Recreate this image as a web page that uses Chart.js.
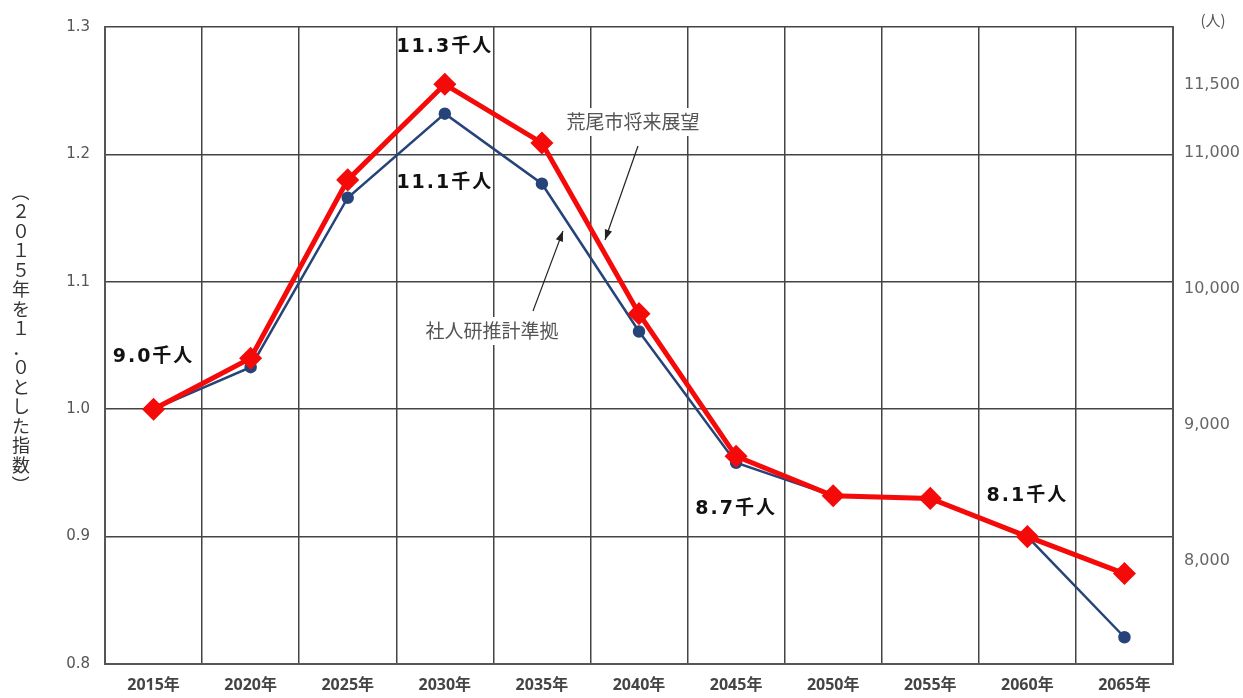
<!DOCTYPE html>
<html>
<head>
<meta charset="utf-8">
<script src="https://cdn.jsdelivr.net/npm/chart.js@4.4.1/dist/chart.umd.min.js"></script>
<style>
  html, body { margin: 0; padding: 0; background: #fff; }
  #wrap { width: 1243px; height: 698px; position: relative; }
</style>
</head>
<body>
<div id="wrap"><canvas id="popChart"></canvas></div>
<script>
// ===== 荒尾市 人口推計（2015年=1.0 指数） =====

const years = ["2015年", "2020年", "2025年", "2030年", "2035年", "2040年",
               "2045年", "2050年", "2055年", "2060年", "2065年"];

// 社人研推計準拠 (blue)
const ipssIndex = [1.000, 1.033, 1.166, 1.232, 1.177, 1.061, 0.958, 0.932, 0.930, 0.900, 0.821];
// 荒尾市将来展望 (red)
const visionIndex = [1.000, 1.040, 1.180, 1.255, 1.209, 1.075, 0.963, 0.932, 0.930, 0.900, 0.871];

const leftTicks = [0.8, 0.9, 1.0, 1.1, 1.2, 1.3];
const rightTicks = [8000, 9000, 10000, 11000, 11500];

// labels in thousands of people: [text, series, index]
const valueLabels = [
  ["9.0千人", "vision", 0],
  ["11.3千人", "vision", 3],
  ["11.1千人", "ipss", 3],
  ["8.7千人", "ipss", 6],
  ["8.1千人", "vision", 9]
];

const axisTitleChars = ["（", "２", "０", "１", "５", "年", "を", "１", "．", "０", "と", "し", "た", "指", "数", "）"];

const JP = "'Noto Sans CJK JP', 'DejaVu Sans', sans-serif";

// ---- custom drawing: vertical axis title, value labels, callouts ----
const overlayPlugin = {
  id: "overlay",
  afterDraw(chart) {
    const ctx = chart.ctx;
    const xs = chart.scales.x;
    const ys = chart.scales.y;

    // vertical title (upright characters)
    ctx.save();
    ctx.fillStyle = "#333";
    ctx.font = "18px " + JP;
    ctx.textAlign = "center";
    ctx.textBaseline = "middle";
    axisTitleChars.forEach((ch, i) => {
      const y = 192 + i * 19.5;
      if (ch === "（" || ch === "）") {
        ctx.save();
        ctx.translate(21, y);
        ctx.rotate(Math.PI / 2);
        ctx.fillText(ch, 0, 0);
        ctx.restore();
      } else {
        ctx.fillText(ch, 21, y);
      }
    });
    ctx.restore();

    // "(人)" unit on right axis
    ctx.save();
    ctx.fillStyle = "#555";
    ctx.font = "15px " + JP;
    ctx.textAlign = "center";
    ctx.textBaseline = "middle";
    ctx.fillText("(人)", 1213, 20);
    ctx.restore();

    // bold value labels
    const offsets = [-52, -37, 69, 46, -41];
    ctx.save();
    ctx.fillStyle = "#111";
    ctx.font = "bold 19px 'DejaVu Sans', " + JP;
    ctx.letterSpacing = "2px";
    ctx.textAlign = "center";
    ctx.textBaseline = "middle";
    valueLabels.forEach((lab, i) => {
      const arr = lab[1] === "vision" ? visionIndex : ipssIndex;
      const px = xs.getPixelForValue(lab[2]);
      const py = ys.getPixelForValue(arr[lab[2]]);
      ctx.fillText(lab[0], px, py + offsets[i]);
    });
    ctx.restore();

    // callouts with arrows
    const callouts = [
      { text: "荒尾市将来展望", cx: 633, cy: 122, from: [638, 146], to: [605, 240] },
      { text: "社人研推計準拠", cx: 492, cy: 331, from: [533, 311], to: [563, 231] }
    ];
    ctx.save();
    ctx.font = "19px " + JP;
    ctx.textAlign = "center";
    ctx.textBaseline = "middle";
    callouts.forEach(c => {
      const w = ctx.measureText(c.text).width + 8;
      ctx.fillStyle = "#fff";
      ctx.fillRect(c.cx - w / 2, c.cy - 14, w, 28);
      ctx.fillStyle = "#555";
      ctx.fillText(c.text, c.cx, c.cy);
      // arrow line
      ctx.strokeStyle = "#222";
      ctx.lineWidth = 1.2;
      ctx.beginPath();
      ctx.moveTo(c.from[0], c.from[1]);
      ctx.lineTo(c.to[0], c.to[1]);
      ctx.stroke();
      const ang = Math.atan2(c.to[1] - c.from[1], c.to[0] - c.from[0]);
      ctx.fillStyle = "#222";
      ctx.beginPath();
      ctx.moveTo(c.to[0], c.to[1]);
      ctx.lineTo(c.to[0] - 11 * Math.cos(ang - 0.35), c.to[1] - 11 * Math.sin(ang - 0.35));
      ctx.lineTo(c.to[0] - 11 * Math.cos(ang + 0.35), c.to[1] - 11 * Math.sin(ang + 0.35));
      ctx.closePath();
      ctx.fill();
    });
    ctx.restore();
  }
};

const ctx = document.getElementById("popChart").getContext("2d");

new Chart(ctx, {
  type: "line",
  data: {
    labels: years,
    datasets: [
      {
        label: "荒尾市将来展望",
        data: visionIndex,
        borderColor: "#f50a0a",
        backgroundColor: "#f50a0a",
        borderWidth: 5,
        pointStyle: "rectRot",
        pointRadius: 8,
        pointBackgroundColor: "#f50a0a",
        pointBorderColor: "#f50a0a",
        tension: 0,
        yAxisID: "y",
        order: 0
      },
      {
        label: "社人研推計準拠",
        data: ipssIndex,
        borderColor: "#264479",
        backgroundColor: "#264479",
        borderWidth: 2.5,
        pointStyle: "circle",
        pointRadius: 5,
        pointBackgroundColor: "#264479",
        pointBorderColor: "#264479",
        tension: 0,
        yAxisID: "y",
        order: 1
      }
    ]
  },
  options: {
    responsive: true,
    maintainAspectRatio: false,
    animation: false,
    layout: { padding: { top: 27, bottom: 0, left: 0, right: 0 } },
    plugins: {
      legend: { display: false },
      tooltip: { enabled: false }
    },
    scales: {
      x: {
        offset: true,
        grid: {
          offset: true,
          color: "#444",
          lineWidth: 1.5,
          drawTicks: false
        },
        border: { color: "#555", width: 2 },
        ticks: {
          color: "#444",
          font: { size: 16, weight: "bold", family: "'Noto Sans', 'Noto Sans CJK JP', sans-serif" },
          padding: 12,
          maxRotation: 0,
          autoSkip: false
        },
        afterFit: s => { s.height = 34; }
      },
      y: {
        position: "left",
        min: 0.8,
        max: 1.3,
        afterBuildTicks: s => { s.ticks = leftTicks.map(v => ({ value: v })); },
        grid: { color: "#444", lineWidth: 1.5, drawTicks: false },
        border: { color: "#555", width: 2 },
        ticks: {
          color: "#555",
          font: { size: 15, family: "'DejaVu Sans', sans-serif" },
          padding: 15,
          callback: v => v.toFixed(1)
        },
        afterFit: s => { s.width = 105; }
      },
      y2: {
        position: "right",
        min: 7241,
        max: 11922,
        afterBuildTicks: s => { s.ticks = rightTicks.map(v => ({ value: v })); },
        grid: { display: false, drawTicks: false },
        border: { color: "#555", width: 2 },
        ticks: {
          color: "#666",
          font: { size: 16, family: "'DejaVu Sans', sans-serif" },
          padding: 11,
          callback: v => v.toLocaleString("en-US")
        },
        afterFit: s => { s.width = 70; }
      }
    }
  },
  plugins: [overlayPlugin]
});
</script>
</body>
</html>
